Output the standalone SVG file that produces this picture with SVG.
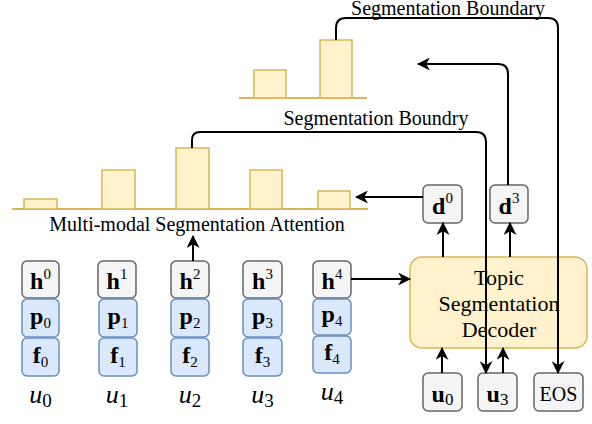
<svg xmlns="http://www.w3.org/2000/svg" width="592" height="424" viewBox="0 0 592 424">
<defs>
<marker id="arr" viewBox="0 0 12 12" refX="11" refY="6" markerWidth="13" markerHeight="13" markerUnits="userSpaceOnUse" orient="auto">
<path d="M0,0 L12,6 L0,12 L3.5,6 z" fill="#000"/>
</marker>
<style>
text{font-family:"Liberation Serif","Times New Roman",serif;fill:#000}
.gray{fill:#f5f5f5;stroke:#666666;stroke-width:1.5}
.blue{fill:#dae8fc;stroke:#6c8ebf;stroke-width:1.5}
.yel{fill:#fff2cc;stroke:#d6b656;stroke-width:1.5}
.base{stroke:#d6b656;stroke-width:2;fill:none}
.lbl{font-size:20px;text-anchor:middle}
.b{font-size:24px;font-weight:bold;text-anchor:middle}
.s{font-size:15px;font-weight:normal}
.u{font-size:26px;font-style:italic;text-anchor:middle}
.us{font-size:19px;font-style:normal}
.con{fill:none;stroke:#000;stroke-width:2}
.dec{font-size:22px;text-anchor:middle}
</style>
</defs>
<rect width="592" height="424" fill="#fff"/>

<g id="top-chart">
<line class="base" x1="239" y1="98" x2="367" y2="98"/>
<rect class="yel" x="254" y="70" width="32" height="28"/>
<rect class="yel" x="320" y="40" width="32" height="58"/>
</g>

<g id="attention-chart">
<line class="base" x1="12" y1="209" x2="368" y2="209"/>
<rect class="yel" x="24" y="199" width="33" height="10"/>
<rect class="yel" x="102" y="170" width="33" height="39"/>
<rect class="yel" x="176" y="148" width="33" height="61"/>
<rect class="yel" x="250" y="170" width="32" height="39"/>
<rect class="yel" x="318" y="191" width="32" height="18"/>
<text class="lbl" x="197" y="231">Multi-modal Segmentation Attention</text>
</g>

<g id="labels">
<text class="lbl" x="448" y="15">Segmentation Boundary</text>
<text class="lbl" x="376" y="125">Segmentation Boundry</text>
</g>

<g id="u0">
<rect class="gray" x="22" y="261" width="37" height="37" rx="5"/>
<rect class="blue" x="22" y="299" width="37" height="38" rx="5"/>
<rect class="blue" x="22" y="338" width="37" height="38" rx="5"/>
<text class="b" x="40.5" y="289">h<tspan class="s" dy="-10">0</tspan></text>
<text class="b" x="40.5" y="324">p<tspan class="s" dy="4">0</tspan></text>
<text class="b" x="40.5" y="363">f<tspan class="s" dy="4">0</tspan></text>
<text class="u" x="40.5" y="403">u<tspan class="us" dy="4">0</tspan></text>
</g>
<g id="u1">
<rect class="gray" x="98" y="261" width="38" height="37" rx="5"/>
<rect class="blue" x="99" y="299" width="38" height="38" rx="5"/>
<rect class="blue" x="99" y="338" width="38" height="38" rx="5"/>
<text class="b" x="117" y="289">h<tspan class="s" dy="-10">1</tspan></text>
<text class="b" x="118" y="324">p<tspan class="s" dy="4">1</tspan></text>
<text class="b" x="118" y="363">f<tspan class="s" dy="4">1</tspan></text>
<text class="u" x="117" y="403">u<tspan class="us" dy="4">1</tspan></text>
</g>
<g id="u2">
<rect class="gray" x="171" y="261" width="38" height="37" rx="5"/>
<rect class="blue" x="171" y="299" width="38" height="38" rx="5"/>
<rect class="blue" x="171" y="338" width="38" height="38" rx="5"/>
<text class="b" x="190" y="289">h<tspan class="s" dy="-10">2</tspan></text>
<text class="b" x="190" y="324">p<tspan class="s" dy="4">2</tspan></text>
<text class="b" x="190" y="363">f<tspan class="s" dy="4">2</tspan></text>
<text class="u" x="190" y="403">u<tspan class="us" dy="4">2</tspan></text>
</g>
<g id="u3">
<rect class="gray" x="243" y="261" width="39" height="37" rx="5"/>
<rect class="blue" x="243" y="299" width="39" height="38" rx="5"/>
<rect class="blue" x="243" y="338" width="39" height="38" rx="5"/>
<text class="b" x="262.5" y="289">h<tspan class="s" dy="-10">3</tspan></text>
<text class="b" x="262.5" y="324">p<tspan class="s" dy="4">3</tspan></text>
<text class="b" x="262.5" y="363">f<tspan class="s" dy="4">3</tspan></text>
<text class="u" x="262.5" y="403">u<tspan class="us" dy="4">3</tspan></text>
</g>
<g id="u4">
<rect class="gray" x="313" y="261" width="38" height="37" rx="5"/>
<rect class="blue" x="313" y="299" width="38" height="36" rx="5"/>
<rect class="blue" x="313" y="336" width="38" height="37" rx="5"/>
<text class="b" x="332" y="289">h<tspan class="s" dy="-10">4</tspan></text>
<text class="b" x="332" y="322">p<tspan class="s" dy="4">4</tspan></text>
<text class="b" x="332" y="360">f<tspan class="s" dy="4">4</tspan></text>
<text class="u" x="332" y="400">u<tspan class="us" dy="4">4</tspan></text>
</g>

<g id="decoder">
<rect class="yel" x="410" y="257" width="177" height="91" rx="12"/>
<text class="dec" x="499" y="285">Topic</text>
<text class="dec" x="499" y="311">Segmentation</text>
<text class="dec" x="499" y="337">Decoder</text>
</g>

<g id="d0">
<rect class="gray" x="423" y="185" width="39" height="38" rx="5"/>
<text class="b" x="442.5" y="214">d<tspan class="s" dy="-11">0</tspan></text>
</g>
<g id="d3">
<rect class="gray" x="490" y="185" width="38" height="38" rx="5"/>
<text class="b" x="509" y="214">d<tspan class="s" dy="-11">3</tspan></text>
</g>
<g id="in-u0">
<rect class="gray" x="423" y="373" width="39" height="38" rx="5"/>
<text class="b" x="442.5" y="402">u<tspan class="s" style="font-size:17px" dy="3">0</tspan></text>
</g>
<g id="in-u3">
<rect class="gray" x="478" y="373" width="39" height="38" rx="5"/>
<text class="b" x="497.5" y="402">u<tspan class="s" style="font-size:17px" dy="3">3</tspan></text>
</g>
<g id="eos">
<rect class="gray" x="534" y="373" width="49" height="38" rx="5"/>
<text x="558.5" y="401" style="font-size:20px;text-anchor:middle">EOS</text>
</g>

<g id="connectors">
<path class="con" d="M193,261 V236" marker-end="url(#arr)"/>
<path class="con" d="M351,279 H410" marker-end="url(#arr)"/>
<path class="con" d="M423,197 H356" marker-end="url(#arr)"/>
<path class="con" d="M443,257 V223" marker-end="url(#arr)"/>
<path class="con" d="M510,257 V223" marker-end="url(#arr)"/>
<path class="con" d="M442,373 V348" marker-end="url(#arr)"/>
<path class="con" d="M503,373 V348" marker-end="url(#arr)"/>
<path class="con" d="M508,185 V74 Q508,64 498,64 H418" marker-end="url(#arr)"/>
<path class="con" d="M336,40 V28 Q336,18 346,18 H548 Q558,18 558,28 V373" marker-end="url(#arr)"/>
<path class="con" d="M192,148 V140 Q192,132 200,132 H476 Q486,132 486,142 V373" marker-end="url(#arr)"/>
</g>
</svg>
